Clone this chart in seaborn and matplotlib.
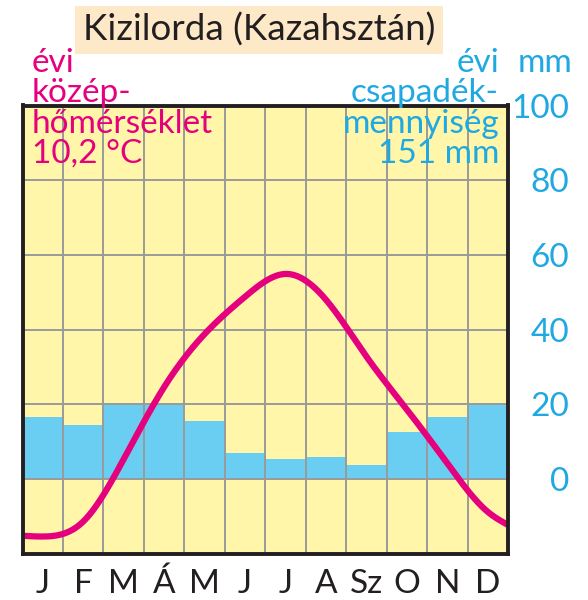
import numpy as np
import pandas as pd
import seaborn as sns
import matplotlib.pyplot as plt

# Monthly climate data for Kizilorda
months = ['J', 'F', 'M', 'Á', 'M', 'J', 'J', 'A', 'Sz', 'O', 'N', 'D']
precip_mm = [16.5, 14.5, 20, 20, 15.5, 6.9, 5.3, 5.8, 3.7, 12.5, 16.5, 20]
temp_c = [-7.7, -5.7, 2.65, 12.3, 19.4, 24.4, 27.45, 24.0, 16.4, 9.3, 2.1, -4.4]
# where the temperature curve meets the left and right frame
temp_edge_c = [-7.6, -6.15]
mm_ticks = [-20, 0, 20, 40, 60, 80, 100]
mm_labels = ['', '0', '20', '40', '60', '80', '100']

YELLOW = '#FFF6A9'
BLUE = '#6ACEF2'
MAGENTA = '#E5007E'
CYAN = '#1FA8E1'
DARK = '#231F20'


def natural_spline(x, y, n=600):
    x = np.asarray(x, float)
    y = np.asarray(y, float)
    k = len(x)
    h = np.diff(x)
    A = np.zeros((k, k))
    r = np.zeros(k)
    A[0, 0] = A[-1, -1] = 1
    for i in range(1, k - 1):
        A[i, i - 1] = h[i - 1]
        A[i, i] = 2 * (h[i - 1] + h[i])
        A[i, i + 1] = h[i]
        r[i] = 6 * ((y[i + 1] - y[i]) / h[i] - (y[i] - y[i - 1]) / h[i - 1])
    m = np.linalg.solve(A, r)
    xs = np.linspace(x[0], x[-1], n)
    idx = np.clip(np.searchsorted(x, xs) - 1, 0, k - 2)
    x0, x1, hh = x[idx], x[idx + 1], h[idx]
    ys = (m[idx] * (x1 - xs) ** 3 / (6 * hh) + m[idx + 1] * (xs - x0) ** 3 / (6 * hh)
          + (y[idx] / hh - m[idx] * hh / 6) * (x1 - xs)
          + (y[idx + 1] / hh - m[idx + 1] * hh / 6) * (xs - x0))
    return xs, ys


df = pd.DataFrame({'pos': range(12), 'precip': precip_mm})

# temperature drawn on the mm scale: 10 degC = 20 mm
curve_x = [-0.5] + list(range(12)) + [11.5]
curve_t = [temp_edge_c[0]] + temp_c + [temp_edge_c[1]]
cx, cy = natural_spline(curve_x, [2 * v for v in curve_t])

sns.set_style('white')
plt.rcParams['font.family'] = ['Lato', 'DejaVu Sans']

fig = plt.figure(figsize=(5.88, 6), dpi=100)
ax = fig.add_axes([22.5 / 588, 1 - 553.7 / 600, (508 - 22.5) / 588, (553.7 - 105.5) / 600])
ax.set_facecolor(YELLOW)

sns.barplot(data=df, x='pos', y='precip', color=BLUE, saturation=1, width=1,
            linewidth=0, ax=ax)
sns.lineplot(x=cx, y=cy, color=MAGENTA, linewidth=4.5, sort=False, ax=ax, zorder=4)

ax.set_xlim(-0.5, 11.5)
ax.set_ylim(-20, 100)
ax.set_xlabel('')
ax.set_ylabel('')

ax.set_xticks(range(12))
ax.set_xticklabels(months)
ax.set_xticks(np.arange(0.5, 11, 1), minor=True)
ax.set_yticks(mm_ticks)
ax.set_yticklabels(mm_labels)

ax.set_axisbelow(False)
ax.grid(False)
ax.xaxis.grid(True, which='minor', color='#9A9A9A', linewidth=1.4)
ax.yaxis.grid(True, which='major', color='#9A9A9A', linewidth=1.4)

for s in ax.spines.values():
    s.set_visible(True)
    s.set_color(DARK)
    s.set_linewidth(2.8)
    s.set_zorder(5)

ax.yaxis.tick_right()
ax.tick_params(axis='y', which='both', length=0, pad=44, labelsize=24, labelcolor=CYAN)
plt.setp(ax.get_yticklabels(), ha='right')
ax.tick_params(axis='x', which='both', length=0, pad=11, labelsize=24, labelcolor=DARK)

# title
fig.text(259 / 588, 1 - 41 / 600, 'Kizilorda (Kazahsztán)', ha='center', va='baseline',
         fontsize=26.5, color=DARK,
         bbox=dict(boxstyle='square,pad=0.2', facecolor='#FDE9C8', edgecolor='none'))

# annual notes: temperature (left), precipitation (right)
left_lines = ['évi', 'közép-', 'hőmérséklet', '10,2 °C']
right_lines = ['évi', 'csapadék-', 'mennyiség', '151 mm']
baselines = [72, 102, 133, 163]
for txt, yb in zip(left_lines, baselines):
    fig.text(32 / 588, 1 - yb / 600, txt, ha='left', va='baseline', fontsize=24,
             color=MAGENTA)
for txt, yb in zip(right_lines, baselines):
    fig.text(499 / 588, 1 - yb / 600, txt, ha='right', va='baseline', fontsize=24,
             color=CYAN)
fig.text(572 / 588, 1 - 72 / 600, 'mm', ha='right', va='baseline', fontsize=24, color=CYAN)

fig.savefig('out.png', dpi=100, facecolor='white')
